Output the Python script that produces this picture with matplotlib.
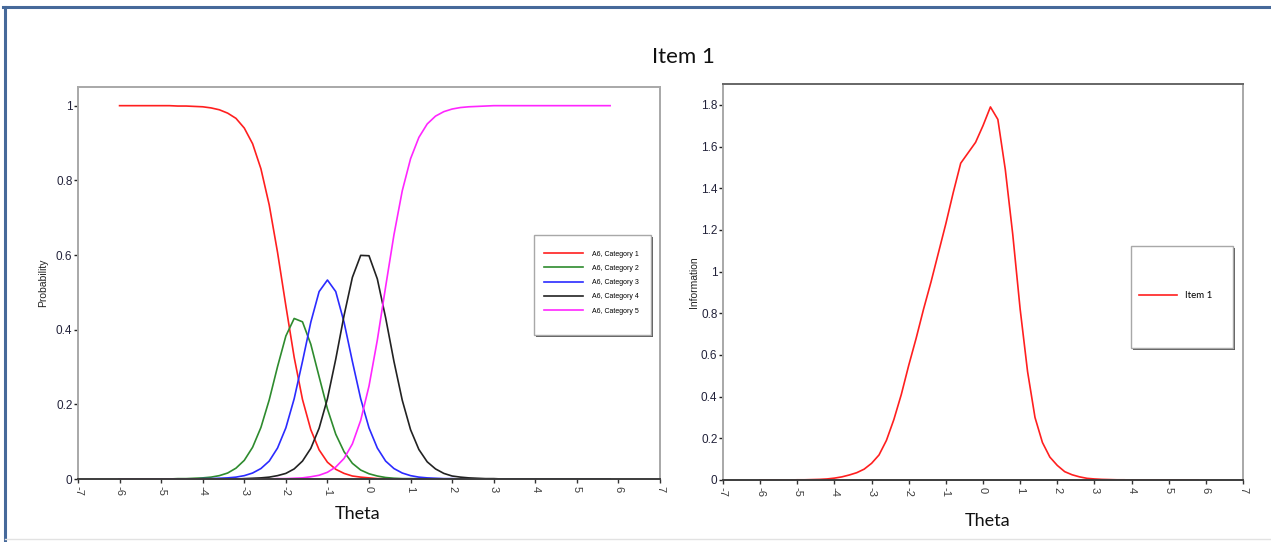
import matplotlib.pyplot as plt
from matplotlib.lines import Line2D
from matplotlib.patches import Rectangle

plt.rcParams['axes.unicode_minus'] = False

# theta grid of the item curves
theta = [-6.0, -5.8, -5.6, -5.4, -5.2, -5.0, -4.8, -4.6, -4.4, -4.2,
         -4.0, -3.8, -3.6, -3.4, -3.2, -3.0, -2.8, -2.6, -2.4, -2.2,
         -2.0, -1.8, -1.6, -1.4, -1.2, -1.0, -0.8, -0.6, -0.4, -0.2,
         0.0, 0.2, 0.4, 0.6, 0.8, 1.0, 1.2, 1.4, 1.6, 1.8,
         2.0, 2.2, 2.4, 2.6, 2.8, 3.0, 3.2, 3.4, 3.6, 3.8,
         4.0, 4.2, 4.4, 4.6, 4.8, 5.0, 5.2, 5.4, 5.6, 5.8]

# category response probabilities
cat1 = [1.000, 1.000, 1.000, 1.000, 1.000, 1.000, 1.000, 0.999, 0.999, 0.998,
        0.997, 0.994, 0.989, 0.980, 0.966, 0.940, 0.898, 0.831, 0.734, 0.607,
        0.464, 0.326, 0.213, 0.132, 0.078, 0.045, 0.026, 0.015, 0.008, 0.005,
        0.003, 0.001, 0.001, 0.000, 0.000, 0.000, 0.000, 0.000, 0.000, 0.000,
        0.000, 0.000, 0.000, 0.000, 0.000, 0.000, 0.000, 0.000, 0.000, 0.000,
        0.000, 0.000, 0.000, 0.000, 0.000, 0.000, 0.000, 0.000, 0.000, 0.000]
cat2 = [0.000, 0.000, 0.000, 0.000, 0.000, 0.000, 0.000, 0.001, 0.001, 0.002,
        0.003, 0.005, 0.009, 0.016, 0.029, 0.050, 0.085, 0.138, 0.212, 0.301,
        0.383, 0.430, 0.421, 0.361, 0.274, 0.188, 0.120, 0.073, 0.042, 0.024,
        0.014, 0.008, 0.004, 0.002, 0.001, 0.001, 0.001, 0.000, 0.000, 0.000,
        0.000, 0.000, 0.000, 0.000, 0.000, 0.000, 0.000, 0.000, 0.000, 0.000,
        0.000, 0.000, 0.000, 0.000, 0.000, 0.000, 0.000, 0.000, 0.000, 0.000]
cat3 = [0.000, 0.000, 0.000, 0.000, 0.000, 0.000, 0.000, 0.000, 0.000, 0.000,
        0.001, 0.001, 0.002, 0.003, 0.005, 0.009, 0.016, 0.028, 0.048, 0.083,
        0.137, 0.215, 0.315, 0.420, 0.502, 0.533, 0.502, 0.420, 0.315, 0.215,
        0.137, 0.083, 0.048, 0.028, 0.016, 0.009, 0.005, 0.003, 0.002, 0.001,
        0.001, 0.000, 0.000, 0.000, 0.000, 0.000, 0.000, 0.000, 0.000, 0.000,
        0.000, 0.000, 0.000, 0.000, 0.000, 0.000, 0.000, 0.000, 0.000, 0.000]
cat4 = [0.000, 0.000, 0.000, 0.000, 0.000, 0.000, 0.000, 0.000, 0.000, 0.000,
        0.000, 0.000, 0.000, 0.000, 0.000, 0.001, 0.002, 0.003, 0.005, 0.009,
        0.015, 0.027, 0.048, 0.082, 0.136, 0.215, 0.321, 0.438, 0.540, 0.599,
        0.598, 0.536, 0.432, 0.315, 0.211, 0.132, 0.079, 0.046, 0.027, 0.015,
        0.008, 0.005, 0.003, 0.002, 0.001, 0.001, 0.000, 0.000, 0.000, 0.000,
        0.000, 0.000, 0.000, 0.000, 0.000, 0.000, 0.000, 0.000, 0.000, 0.000]
cat5 = [0.000, 0.000, 0.000, 0.000, 0.000, 0.000, 0.000, 0.000, 0.000, 0.000,
        0.000, 0.000, 0.000, 0.000, 0.000, 0.000, 0.000, 0.000, 0.000, 0.001,
        0.001, 0.002, 0.003, 0.006, 0.010, 0.018, 0.032, 0.055, 0.094, 0.157,
        0.249, 0.372, 0.515, 0.654, 0.772, 0.858, 0.915, 0.951, 0.972, 0.984,
        0.991, 0.995, 0.997, 0.998, 0.999, 1.000, 1.000, 1.000, 1.000, 1.000,
        1.000, 1.000, 1.000, 1.000, 1.000, 1.000, 1.000, 1.000, 1.000, 1.000]

# item information
info = [0.000, 0.000, 0.000, 0.000, 0.000, 0.001, 0.001, 0.002, 0.003, 0.005,
        0.009, 0.015, 0.024, 0.035, 0.052, 0.080, 0.120, 0.190, 0.290, 0.410,
        0.550, 0.680, 0.820, 0.950, 1.090, 1.230, 1.380, 1.520, 1.570, 1.620,
        1.700, 1.790, 1.730, 1.490, 1.180, 0.820, 0.520, 0.300, 0.180, 0.110,
        0.070, 0.040, 0.025, 0.015, 0.008, 0.005, 0.003, 0.002, 0.001, 0.001,
        0.000, 0.000, 0.000, 0.000, 0.000, 0.000, 0.000, 0.000, 0.000, 0.000]

cat_labels = ['A6, Category 1', 'A6, Category 2', 'A6, Category 3',
              'A6, Category 4', 'A6, Category 5']
cat_colors = ['#ff1f1f', '#2e8b2e', '#2b2bff', '#222222', '#ff26ff']

x_ticks = list(range(-7, 8))
prob_ticks = [0, 0.2, 0.4, 0.6, 0.8, 1]
prob_tick_labels = ['0', '0.2', '0.4', '0.6', '0.8', '1']
info_ticks = [0, 0.2, 0.4, 0.6, 0.8, 1, 1.2, 1.4, 1.6, 1.8]
info_tick_labels = ['0', '0.2', '0.4', '0.6', '0.8', '1', '1.2', '1.4', '1.6', '1.8']

NARROW = ['Liberation Sans Narrow', 'Liberation Sans', 'DejaVu Sans']
SANS = ['Lato', 'DejaVu Sans']

W, H = 1271, 542
fig = plt.figure(figsize=(W / 100, H / 100), dpi=100)


def fx(px):
    return px / W


def fy(py):
    return 1 - py / H


def style_axes(ax, frame_color, top_color):
    ax.set_xlim(-7, 7)
    ax.set_xticks(x_ticks)
    ax.set_xticklabels([str(t) for t in x_ticks], rotation=270,
                       family=NARROW, fontsize=8, color='#3a3a3a')
    ax.tick_params(axis='x', direction='out', length=3, width=1,
                   color='#333333', pad=2)
    ax.tick_params(axis='y', direction='out', length=3, width=1,
                   color='#222222', labelcolor='#22223a', pad=1)
    for lab in ax.get_yticklabels():
        lab.set_family(NARROW)
        lab.set_fontsize(8.5)
    for side in ['left', 'right']:
        ax.spines[side].set_color(frame_color)
        ax.spines[side].set_linewidth(1.4)
    ax.spines['top'].set_color(top_color)
    ax.spines['top'].set_linewidth(1.4)
    ax.spines['bottom'].set_color('#3c3c3c')
    ax.spines['bottom'].set_linewidth(1.4)


def legend_box(x0, y0, x1, y1):
    # white box with a dark drop edge on the lower right
    shadow = Rectangle((fx(x0 + 2), fy(y1 + 2)), fx(x1 - x0), (y1 - y0) / H,
                       transform=fig.transFigure, facecolor='#5a5a5a',
                       edgecolor='none', zorder=2)
    box = Rectangle((fx(x0), fy(y1)), fx(x1 - x0), (y1 - y0) / H,
                    transform=fig.transFigure, facecolor='white',
                    edgecolor='#a8a8a8', linewidth=1.0, zorder=3)
    fig.add_artist(shadow)
    fig.add_artist(box)


# category response curves
ax1 = fig.add_axes([fx(78), fy(479), fx(660 - 78), (479 - 87) / H])
cat_series = [cat1, cat2, cat3, cat4, cat5]
lines = []
for vals, col, lab in zip(cat_series, cat_colors, cat_labels):
    ln, = ax1.plot(theta, vals, color=col, linewidth=1.2, label=lab)
    lines.append(ln)
ax1.set_ylim(0, 1.05)
ax1.set_yticks(prob_ticks)
ax1.set_yticklabels(prob_tick_labels)
style_axes(ax1, '#a8a8a8', '#a8a8a8')
ax1.set_ylabel('Probability', family=['Liberation Sans', 'DejaVu Sans'],
               fontsize=7.5, color='#222222')
ax1.yaxis.set_label_coords(fx(48 - 78) / fx(660 - 78), 0.5)

# item information curve
ax2 = fig.add_axes([fx(723), fy(480), fx(1243 - 723), (480 - 84) / H])
info_line, = ax2.plot(theta, info, color='#ff1f1f', linewidth=1.2,
                      label='Item 1')
ax2.set_ylim(0, 1.9)
ax2.set_yticks(info_ticks)
ax2.set_yticklabels(info_tick_labels)
style_axes(ax2, '#a8a8a8', '#666666')
ax2.set_ylabel('Information', family=['Liberation Sans', 'DejaVu Sans'],
               fontsize=7.5, color='#222222')
ax2.yaxis.set_label_coords(fx(699 - 723) / fx(1243 - 723), 0.5)

# legends
legend_box(534, 235, 651, 335)
fig.legend(handles=lines, loc='upper left',
           bbox_to_anchor=(fx(544), fy(250.5)), bbox_transform=fig.transFigure,
           frameon=False, borderpad=0, borderaxespad=0,
           prop={'family': NARROW, 'size': 5},
           handlelength=5.6, handletextpad=1.3, labelspacing=1.05)

legend_box(1131, 246, 1233, 348)
fig.legend(handles=[info_line], loc='upper left',
           bbox_to_anchor=(fx(1139), fy(291)), bbox_transform=fig.transFigure,
           frameon=False, borderpad=0, borderaxespad=0,
           prop={'family': SANS, 'size': 7},
           handlelength=3.9, handletextpad=0.8)

# titles
fig.text(fx(683), fy(57), 'Item 1', family=SANS, fontsize=16,
         ha='center', va='center', color='#111111')
fig.text(fx(358), fy(514), 'Theta', family=SANS, fontsize=13,
         ha='center', va='center', color='#111111')
fig.text(fx(988), fy(521), 'Theta', family=SANS, fontsize=13,
         ha='center', va='center', color='#111111')

# slide frame
fig.add_artist(Line2D([fx(3), 1], [fy(7), fy(7)], transform=fig.transFigure,
                      color='#46699a', linewidth=2.2))
fig.add_artist(Line2D([fx(5), fx(5)], [fy(7), 0], transform=fig.transFigure,
                      color='#46699a', linewidth=2.2))
fig.add_artist(Line2D([fx(5), 1], [fy(539), fy(539)], transform=fig.transFigure,
                      color='#e2e2e2', linewidth=1.0))

fig.savefig('out.png', dpi=100)
